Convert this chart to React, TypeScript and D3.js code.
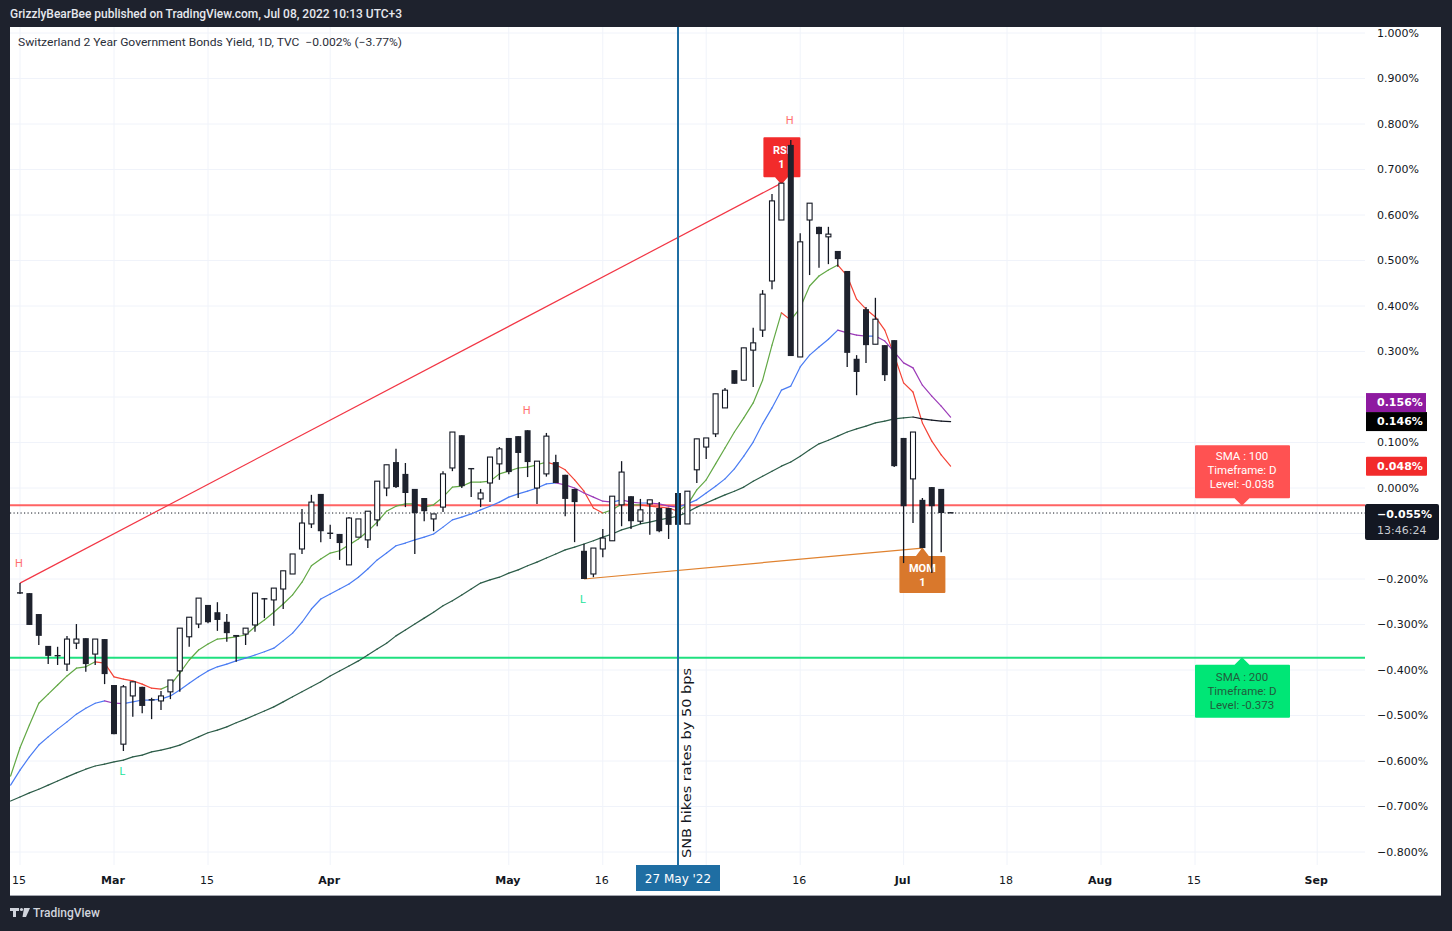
import React from "react";
import * as d3 from "d3";

// Daily candles, 15 Feb 2022 (index 0) .. 8 Jul 2022 (index 99), yield in %
const open = [
  -0.229, -0.231, -0.277, -0.347, -0.367, -0.387, -0.341, -0.33, -0.365, -0.332,
  -0.433, -0.563, -0.457, -0.437, -0.464, -0.468, -0.448, -0.402, -0.327, -0.299,
  -0.257, -0.273, -0.294, -0.323, -0.321, -0.301, -0.242, -0.246, -0.222, -0.189,
  -0.134, -0.079, -0.013, -0.098, -0.101, -0.169, -0.108, -0.114, -0.07, 0.0,
  0.057, 0.031, -0.002, -0.022, -0.068, -0.042, 0.044, 0.116, 0.044, -0.024,
  0.011, 0.053, 0.11, 0.114, 0.127, 0.0, 0.031, 0.057, 0.029, -0.002,
  -0.138, -0.189, -0.134, -0.116, -0.037, -0.018, -0.073, -0.035, -0.044, -0.044,
  -0.011, -0.079, 0.04, 0.09, 0.119, 0.176, 0.259, 0.237, 0.303, 0.347,
  0.455, 0.589, 0.754, 0.288, 0.589, 0.574, 0.552, 0.521, 0.477, 0.284,
  0.393, 0.316, 0.314, 0.325, 0.11, 0.02, -0.026, 0.002, -0.002, -0.053,
];
const high = [
  -0.209, -0.231, -0.277, -0.347, -0.349, -0.325, -0.299, -0.33, -0.332, -0.332,
  -0.433, -0.433, -0.426, -0.437, -0.461, -0.446, -0.422, -0.308, -0.284, -0.242,
  -0.257, -0.251, -0.277, -0.323, -0.308, -0.231, -0.242, -0.22, -0.182, -0.145,
  -0.046, -0.015, -0.013, -0.081, -0.101, -0.064, -0.068, -0.051, 0.015, 0.051,
  0.086, 0.055, -0.002, -0.022, -0.057, 0.037, 0.123, 0.116, 0.044, -0.002,
  0.068, 0.09, 0.11, 0.114, 0.127, 0.059, 0.121, 0.073, 0.029, -0.002,
  -0.123, -0.132, -0.09, -0.018, 0.059, -0.018, -0.024, -0.026, -0.031, -0.044,
  -0.011, -0.007, 0.108, 0.11, 0.207, 0.22, 0.259, 0.308, 0.352, 0.435,
  0.646, 0.67, 0.765, 0.56, 0.626, 0.574, 0.574, 0.521, 0.477, 0.292,
  0.398, 0.418, 0.314, 0.325, 0.11, 0.123, -0.022, 0.002, -0.002, -0.053,
];
const low = [
  -0.233, -0.301, -0.345, -0.387, -0.389, -0.402, -0.354, -0.404, -0.389, -0.431,
  -0.541, -0.578, -0.503, -0.495, -0.508, -0.488, -0.464, -0.448, -0.349, -0.308,
  -0.297, -0.314, -0.338, -0.382, -0.345, -0.316, -0.286, -0.303, -0.266, -0.189,
  -0.145, -0.088, -0.119, -0.112, -0.158, -0.169, -0.108, -0.132, -0.084, -0.018,
  0.0, -0.042, -0.145, -0.073, -0.095, -0.053, 0.037, 0.0, -0.02, -0.042,
  -0.031, 0.018, 0.03, -0.022, 0.024, -0.035, 0.025, 0.011, -0.062, -0.119,
  -0.2, -0.196, -0.152, -0.116, -0.084, -0.09, -0.079, -0.103, -0.097, -0.112,
  -0.081, -0.079, 0.011, 0.064, 0.112, 0.176, 0.229, 0.237, 0.222, 0.332,
  0.437, 0.589, 0.29, 0.288, 0.468, 0.484, 0.492, 0.486, 0.266, 0.204,
  0.275, 0.316, 0.235, 0.046, -0.165, -0.077, -0.132, -0.187, -0.141, -0.055,
];
const close = [
  -0.231, -0.301, -0.325, -0.369, -0.369, -0.332, -0.332, -0.387, -0.332, -0.409,
  -0.541, -0.437, -0.426, -0.479, -0.466, -0.457, -0.422, -0.308, -0.284, -0.242,
  -0.295, -0.29, -0.319, -0.327, -0.308, -0.231, -0.244, -0.22, -0.182, -0.145,
  -0.077, -0.031, -0.095, -0.099, -0.121, -0.066, -0.068, -0.051, 0.015, 0.051,
  0.002, -0.011, -0.055, -0.051, -0.057, 0.031, 0.123, 0.004, 0.042, -0.011,
  0.068, 0.086, 0.035, 0.077, 0.057, 0.059, 0.114, 0.011, -0.024, -0.031,
  -0.2, -0.132, -0.11, -0.018, 0.035, -0.073, -0.048, -0.026, -0.095, -0.081,
  -0.081, -0.007, 0.108, 0.11, 0.207, 0.215, 0.229, 0.308, 0.319, 0.426,
  0.631, 0.67, 0.29, 0.541, 0.626, 0.558, 0.558, 0.503, 0.297, 0.255,
  0.314, 0.371, 0.248, 0.048, -0.04, 0.123, -0.132, -0.04, -0.055, -0.055,
];

// moving averages, first value belongs to index -1
const maFast = [
  -0.633, -0.571, -0.521, -0.473, -0.453, -0.433, -0.413, -0.396, -0.393, -0.382, -0.385,
  -0.415, -0.42, -0.424, -0.431, -0.44, -0.442, -0.433, -0.407, -0.378, -0.356,
  -0.343, -0.332, -0.33, -0.327, -0.323, -0.305, -0.29, -0.273, -0.255, -0.235,
  -0.207, -0.171, -0.156, -0.143, -0.138, -0.125, -0.112, -0.095, -0.075, -0.051,
  -0.04, -0.035, -0.035, -0.042, -0.037, -0.02, 0.002, 0.004, 0.013, 0.013,
  0.015, 0.031, 0.037, 0.044, 0.046, 0.051, 0.057, 0.051, 0.04, 0.018,
  -0.007, -0.044, -0.055, -0.048, -0.035, -0.037, -0.037, -0.04, -0.042, -0.044,
  -0.051, -0.037, -0.004, 0.018, 0.053, 0.088, 0.123, 0.154, 0.187, 0.237,
  0.314, 0.385, 0.369, 0.396, 0.444, 0.466, 0.479, 0.49, 0.466, 0.415,
  0.393, 0.376, 0.347, 0.292, 0.231, 0.211, 0.143, 0.103, 0.073, 0.048,
];
const maMid = [
  -0.653, -0.62, -0.591, -0.565, -0.547, -0.53, -0.514, -0.497, -0.484, -0.473, -0.468,
  -0.473, -0.474, -0.47, -0.466, -0.466, -0.464, -0.457, -0.444, -0.429, -0.415,
  -0.402, -0.393, -0.387, -0.38, -0.374, -0.367, -0.36, -0.352, -0.336, -0.319,
  -0.295, -0.266, -0.244, -0.233, -0.222, -0.211, -0.196, -0.178, -0.158, -0.143,
  -0.127, -0.121, -0.114, -0.108, -0.101, -0.086, -0.07, -0.064, -0.057, -0.048,
  -0.04, -0.031, -0.02, -0.013, -0.007, 0.0, 0.009, 0.011, 0.007, 0.0,
  -0.011, -0.02, -0.029, -0.031, -0.026, -0.031, -0.033, -0.033, -0.035, -0.04,
  -0.042, -0.035, -0.026, -0.011, 0.004, 0.02, 0.042, 0.07, 0.101, 0.141,
  0.176, 0.215, 0.224, 0.266, 0.292, 0.31, 0.327, 0.347, 0.341, 0.336,
  0.334, 0.334, 0.323, 0.299, 0.275, 0.264, 0.226, 0.202, 0.18, 0.156,
];
const maSlow = [
  -0.688, -0.679, -0.67, -0.662, -0.653, -0.644, -0.635, -0.626, -0.618, -0.611, -0.607,
  -0.602, -0.598, -0.591, -0.587, -0.58, -0.576, -0.571, -0.565, -0.556, -0.547,
  -0.538, -0.532, -0.525, -0.516, -0.508, -0.499, -0.49, -0.481, -0.47, -0.459,
  -0.448, -0.437, -0.426, -0.413, -0.402, -0.391, -0.38, -0.367, -0.354, -0.341,
  -0.325, -0.312, -0.299, -0.286, -0.273, -0.259, -0.248, -0.235, -0.222, -0.209,
  -0.202, -0.196, -0.187, -0.18, -0.171, -0.163, -0.154, -0.145, -0.136, -0.13,
  -0.123, -0.116, -0.108, -0.101, -0.092, -0.086, -0.079, -0.075, -0.07, -0.066,
  -0.062, -0.053, -0.042, -0.033, -0.024, -0.015, -0.007, 0.002, 0.015, 0.026,
  0.037, 0.048, 0.057, 0.07, 0.084, 0.097, 0.105, 0.114, 0.123, 0.13,
  0.136, 0.143, 0.147, 0.152, 0.154, 0.156, 0.152, 0.149, 0.147, 0.146,
];

// "Jun" tick (index 73) keeps its grid line but its label sits under the 27 May marker
const timeTickIdx = [0, 10, 20, 33, 52, 62, 73, 83, 94, 105, 115, 125, 138];
const timeTickLabels = ["15", "Mar", "15", "Apr", "May", "16", "", "16", "Jul", "18", "Aug", "15", "Sep"];
const monthNames = ["Mar", "Apr", "May", "Jun", "Jul", "Aug", "Sep"];
const priceTicks = [1.0, 0.9, 0.8, 0.7, 0.6, 0.5, 0.4, 0.3, 0.2, 0.1, 0.0, -0.1, -0.2, -0.3, -0.4, -0.5, -0.6, -0.7, -0.8];
const coveredTicks = [0.2, -0.1];

const pivotIdx = [0, 11, 54, 60, 82];
const pivotType = ["H", "L", "H", "L", "H"];

const sma100Level = -0.038;
const sma200Level = -0.373;
const lastPrice = -0.055;
const eventIdx = 70; // 27 May '22
const boxIdx = 130;

const FONT = "'DejaVu Sans', Verdana, sans-serif";
const UIFONT = "Roboto, 'Noto Sans', sans-serif";

const plot = { left: 10, right: 1365, top: 27, bottom: 865 };

const xS = d3.scaleLinear().domain([0, 138]).range([20, 20 + 138 * 9.4]);
const yS = d3.scaleLinear().domain([-0.8, 1.0]).range([852, 33]);

const fmt = (v: number) => (v < 0 ? "\u2212" : "") + Math.abs(v).toFixed(3) + "%";

const maStyles = [
  { vals: maFast, up: "#62a845", down: "#f44336" },
  { vals: maMid, up: "#4a7cf3", down: "#9c3bb8" },
  { vals: maSlow, up: "#2c5c48", down: "#131722" },
];

const App: React.FC = () => {
  const ink = "#131722";

  const maSegments: JSX.Element[] = [];
  maStyles.forEach((s, si) => {
    for (let k = 1; k < s.vals.length; k++) {
      const a = s.vals[k - 1];
      const b = s.vals[k];
      maSegments.push(
        <line
          key={`ma${si}-${k}`}
          x1={xS(k - 2)}
          y1={yS(a)}
          x2={xS(k - 1)}
          y2={yS(b)}
          stroke={b >= a ? s.up : s.down}
          strokeWidth={1.2}
          strokeLinecap="round"
        />
      );
    }
  });

  const candles = open.map((o, i) => {
    const c = close[i];
    const cx = xS(i);
    const up = c > o;
    const top = yS(Math.max(o, c));
    const bot = yS(Math.min(o, c));
    const h = Math.max(1.4, bot - top);
    return (
      <g key={`c${i}`}>
        <line x1={cx} x2={cx} y1={yS(high[i])} y2={yS(low[i])} stroke={ink} strokeWidth={1.3} />
        {up ? (
          <rect x={cx - 2.5} y={top} width={5} height={h} fill="#ffffff" stroke={ink} strokeWidth={1.1} />
        ) : (
          <rect x={cx - 3} y={top} width={6} height={h} fill="#1e222d" />
        )}
      </g>
    );
  });

  // RSI / MOM signal boxes anchored on candles
  const rsiX = xS(81);
  const rsiY = yS(close[81]);
  const momX = xS(96);
  const momY = yS(low[96]);

  const boxX = xS(boxIdx);
  const y100 = yS(sma100Level);
  const y200 = yS(sma200Level);

  const badgeX = 1366;
  const midY = yS(maMid[maMid.length - 1]);
  const slowY = yS(maSlow[maSlow.length - 1]);
  const fastY = yS(maFast[maFast.length - 1]);
  const lastY = yS(lastPrice);
  const purpleY = Math.min(midY, slowY - 19);

  return (
    <svg
      width={1452}
      height={931}
      style={{ position: "absolute", left: 0, top: 0, display: "block" }}
    >
      <defs>
        <clipPath id="plotClip">
          <rect x={plot.left} y={plot.top} width={plot.right - plot.left} height={plot.bottom - plot.top} />
        </clipPath>
      </defs>
      <rect x={0} y={0} width={1452} height={931} fill="#1e222d" />
      <rect x={10} y={27} width={1431} height={868} fill="#ffffff" />
      <line x1={10} x2={1441} y1={895.5} y2={895.5} stroke="#a3a6af" strokeWidth={1} />

      <text
        x={10}
        y={18}
        fill="#e6e8ee"
        fontFamily={UIFONT}
        fontSize={12}
        fontWeight={500}
        textLength={392}
        lengthAdjust="spacingAndGlyphs"
      >
        GrizzlyBearBee published on TradingView.com, Jul 08, 2022 10:13 UTC+3
      </text>

      {/* grid */}
      <g>
        {priceTicks.map((t) => (
          <line key={`gy${t}`} x1={plot.left} x2={plot.right} y1={yS(t)} y2={yS(t)} stroke="#f0f3fa" strokeWidth={1} />
        ))}
        {timeTickIdx.map((t) => (
          <line key={`gx${t}`} x1={xS(t)} x2={xS(t)} y1={plot.top} y2={plot.bottom} stroke="#f0f3fa" strokeWidth={1} />
        ))}
      </g>

      <g clipPath="url(#plotClip)">
        {/* SMA 100 / SMA 200 daily levels */}
        <line x1={plot.left} x2={plot.right} y1={y100} y2={y100} stroke="#ff5252" strokeOpacity={0.9} strokeWidth={2} />
        <line x1={plot.left} x2={plot.right} y1={y200} y2={y200} stroke="#1fe07f" strokeWidth={2} />
        <line
          x1={plot.left}
          x2={plot.right}
          y1={lastY}
          y2={lastY}
          stroke={ink}
          strokeWidth={1}
          strokeDasharray="1.2 2.3"
        />

        {/* trend lines */}
        <line x1={xS(0)} y1={yS(high[0])} x2={rsiX} y2={rsiY} stroke="#f23645" strokeWidth={1.2} />
        <line x1={xS(60)} y1={yS(low[60])} x2={momX} y2={momY} stroke="#e0822f" strokeWidth={1.2} />

        {maSegments}

        {/* signal boxes */}
        <g>
          <path
            d={`M${rsiX - 17},${rsiY - 45} h35 v38 h-12 l-6,7 l-6,-7 h-11 z`}
            fill="#f22b2b"
            stroke="#f22b2b"
            strokeLinejoin="round"
            strokeWidth={2}
          />
          <text x={rsiX} y={rsiY - 29} textAnchor="middle" fill="#fff" fontFamily={UIFONT} fontWeight={700} fontSize={11}>
            RSI
          </text>
          <text x={rsiX} y={rsiY - 15} textAnchor="middle" fill="#fff" fontFamily={UIFONT} fontWeight={700} fontSize={11}>
            1
          </text>
        </g>
        <g>
          <path
            d={`M${momX - 22},${momY + 9} h16 l6,-8 l6,8 h16 v35 h-44 z`}
            fill="#d9782c"
            stroke="#d9782c"
            strokeLinejoin="round"
            strokeWidth={2}
          />
          <text x={momX} y={momY + 24} textAnchor="middle" fill="#fff" fontFamily={UIFONT} fontWeight={700} fontSize={11}>
            MOM
          </text>
          <text x={momX} y={momY + 38} textAnchor="middle" fill="#fff" fontFamily={UIFONT} fontWeight={700} fontSize={11}>
            1
          </text>
        </g>

        {candles}

        {/* pivot labels */}
        {pivotIdx.map((p, k) => {
          const isH = pivotType[k] === "H";
          const yy = isH ? yS(high[p]) - 20 : yS(low[p]) + 20;
          return (
            <text
              key={`pv${k}`}
              x={xS(p) - 1}
              y={yy}
              dy="0.35em"
              textAnchor="middle"
              fill={isH ? "#ff6e6e" : "#22e39a"}
              fontFamily={UIFONT}
              fontSize={11}
            >
              {pivotType[k]}
            </text>
          );
        })}

        {/* SMA info boxes */}
        <path
          d={`M${boxX - 46},${y100 - 59} h93 v51 h-40 l-7,7 l-7,-7 h-39 z`}
          fill="#ff5252"
          stroke="#ff5252"
          strokeLinejoin="round"
          strokeWidth={2}
        />
        {["SMA : 100", "Timeframe: D", "Level: -0.038"].map((t, k) => (
          <text key={`s1${k}`} x={boxX} y={y100 - 49 + k * 14} dy="0.35em" textAnchor="middle" fill="#fff" fontFamily={UIFONT} fontSize={11.5}>
            {t}
          </text>
        ))}
        <path
          d={`M${boxX - 46},${y200 + 8} h39 l7,-7 l7,7 h40 v51 h-93 z`}
          fill="#00e676"
          stroke="#00e676"
          strokeLinejoin="round"
          strokeWidth={2}
        />
        {["SMA : 200", "Timeframe: D", "Level: -0.373"].map((t, k) => (
          <text key={`s2${k}`} x={boxX} y={y200 + 19 + k * 14} dy="0.35em" textAnchor="middle" fill="#215c3c" fontFamily={UIFONT} fontSize={11.5}>
            {t}
          </text>
        ))}

        {/* event line */}
        <line x1={xS(eventIdx)} x2={xS(eventIdx)} y1={plot.top} y2={plot.bottom} stroke="#1f6ea3" strokeWidth={2} />
        <text
          transform={`translate(${xS(eventIdx) + 13},858) rotate(-90)`}
          fill={ink}
          fontFamily={FONT}
          fontSize={13}
          textLength={190}
          lengthAdjust="spacingAndGlyphs"
        >
          SNB hikes rates by 50 bps
        </text>
      </g>

      {/* legend */}
      <text
        x={18}
        y={42}
        dy="0.35em"
        fill="#2a2e39"
        fontFamily={UIFONT}
        fontSize={11}
        textLength={384}
        lengthAdjust="spacingAndGlyphs"
        style={{ whiteSpace: "pre" }}
      >
        {"Switzerland 2 Year Government Bonds Yield, 1D, TVC  \u22120.002% (\u22123.77%)"}
      </text>

      {/* price axis */}
      {priceTicks
        .filter((t) => !coveredTicks.includes(t))
        .map((t) => (
          <text key={`py${t}`} x={1377} y={yS(t)} dy="0.35em" fill={ink} fontFamily={FONT} fontSize={11}>
            {fmt(t)}
          </text>
        ))}

      <rect x={badgeX} y={purpleY - 9.5} width={60} height={19} fill="#8e1aa0" />
      <text x={1377} y={purpleY} dy="0.35em" fill="#fff" fontFamily={FONT} fontWeight={700} fontSize={11}>
        {fmt(maMid[maMid.length - 1])}
      </text>
      <rect x={badgeX} y={slowY - 9.5} width={61} height={19} fill="#000000" />
      <text x={1377} y={slowY} dy="0.35em" fill="#fff" fontFamily={FONT} fontWeight={700} fontSize={11}>
        {fmt(maSlow[maSlow.length - 1])}
      </text>
      <rect x={badgeX} y={fastY - 9.5} width={61} height={19} fill="#f22b2b" rx={1} />
      <text x={1377} y={fastY} dy="0.35em" fill="#fff" fontFamily={FONT} fontWeight={700} fontSize={11}>
        {fmt(maFast[maFast.length - 1])}
      </text>
      <rect x={1365} y={lastY - 9} width={74} height={36} fill={ink} rx={2} />
      <text x={1377} y={lastY + 1} dy="0.35em" fill="#fff" fontFamily={FONT} fontWeight={700} fontSize={11}>
        {fmt(lastPrice)}
      </text>
      <text x={1377} y={lastY + 17} dy="0.35em" fill="#c8cad0" fontFamily={FONT} fontSize={11}>
        13:46:24
      </text>

      {/* time axis */}
      {timeTickIdx.map((t, k) => {
        const lbl = timeTickLabels[k];
        if (!lbl) return null;
        return (
          <text
            key={`tx${k}`}
            x={xS(t) - 1}
            y={880}
            dy="0.35em"
            textAnchor="middle"
            fill={ink}
            fontFamily={FONT}
            fontSize={11}
            fontWeight={monthNames.includes(lbl) ? 700 : 400}
          >
            {lbl}
          </text>
        );
      })}
      <rect x={xS(eventIdx) - 42} y={865} width={84} height={26} fill="#1f6ea3" />
      <text x={xS(eventIdx)} y={879} dy="0.35em" textAnchor="middle" fill="#fff" fontFamily={FONT} fontSize={12}>
        27 May '22
      </text>

      {/* footer logo */}
      <g fill="#d1d4dc">
        <path d="M10,908 h9 v3 h-3 v6 h-3 v-6 h-3 z" />
        <circle cx={21.5} cy={909.5} r={1.6} />
        <path d="M24,908 h6 l-4,9 h-3.5 z" />
      </g>
      <text x={33} y={913} dy="0.35em" fill="#d1d4dc" fontFamily={UIFONT} fontSize={12} fontWeight={500}>
        TradingView
      </text>
    </svg>
  );
};

export default App;
